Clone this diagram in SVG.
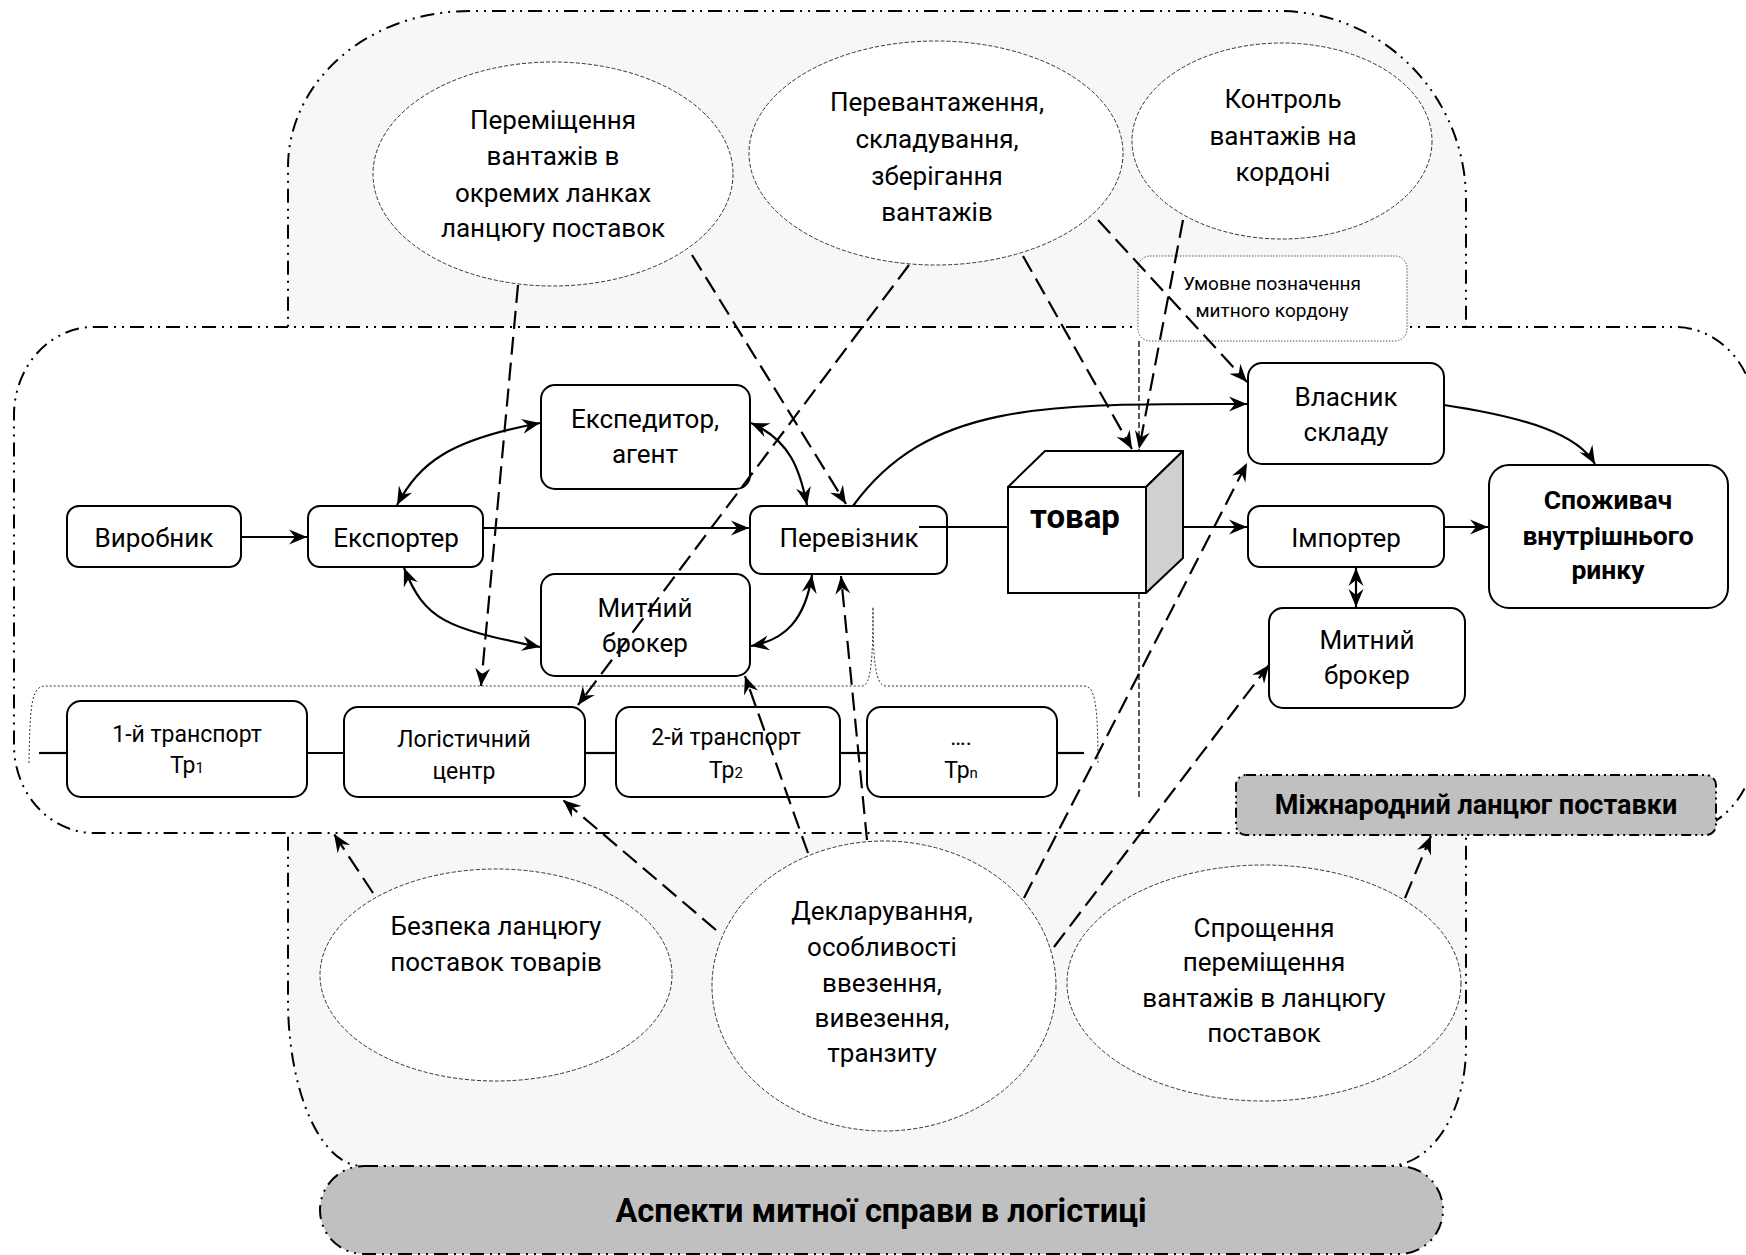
<svg xmlns="http://www.w3.org/2000/svg" width="1746" height="1255" viewBox="0 0 1746 1255">
<defs>
<style>
.t{font-family:Roboto,"Noto Sans","DejaVu Sans",sans-serif;font-size:26px;text-anchor:middle;fill:#000}
.s{font-size:23px}
.b{font-weight:bold}
.node{fill:#fff;stroke:#000;stroke-width:2}
.ell{fill:#fff;stroke:#333;stroke-width:1;stroke-dasharray:4 2}
.dd{stroke:#000;stroke-width:2;stroke-dasharray:14 6 2 6 2 6}
.solid{fill:none;stroke:#000;stroke-width:2.2}
.dash{fill:none;stroke:#000;stroke-width:2.2;stroke-dasharray:18 8}
</style>
<marker id="ar" viewBox="-20 -10 22 20" refX="0" refY="0" markerWidth="22" markerHeight="20" markerUnits="userSpaceOnUse" orient="auto-start-reverse">
<path d="M0,0 L-18,-7.5 L-12,0 L-18,7.5 Z" fill="#000" stroke="none"/>
</marker>
</defs>

<!-- background regions -->
<path id="aspects-region" class="dd" fill="#f7f7f7" d="M288,167 A181,156 0 0 1 469,11 L1279,11 A187,189 0 0 1 1466,200 L1466,1047 A78,119 0 0 1 1388,1166 L362,1166 A74,166 0 0 1 288,1000 Z"/>
<rect id="chain-region" class="dd" fill="#fff" x="14" y="327" width="1741" height="506" rx="80" ry="88"/>

<g id="title-aspects">
<rect class="dd" fill="#c0c0c0" x="320" y="1166" width="1123" height="88" rx="44" ry="44"/>
<text class="t b" x="881" y="1222" style="font-size:32.5px">Аспекти митної справи в логістиці</text>
</g>
<g id="title-chain">
<rect fill="#c0c0c0" stroke="#000" stroke-width="2" stroke-dasharray="10 4 2 4 2 4" x="1236" y="775" width="480" height="60" rx="10"/>
<text class="t b" x="1476" y="814" style="font-size:27px">Міжнародний ланцюг поставки</text>
</g>

<g id="legend">
<rect fill="#fff" stroke="#555" stroke-width="1" stroke-dasharray="1.5 1.5" x="1138" y="256" width="269" height="85" rx="12"/>
<text class="t" x="1272" y="290" style="font-size:19px">Умовне позначення</text>
<text class="t" x="1272" y="317" style="font-size:19px">митного кордону</text>
</g>
<line id="customs-border" x1="1139" y1="341" x2="1139" y2="797" stroke="#000" stroke-width="1.3" stroke-dasharray="6 3"/>

<!-- ellipses -->
<g id="e-movement">
<ellipse class="ell" cx="553" cy="174" rx="180" ry="112"/>
<text class="t" x="553" y="129">Переміщення</text>
<text class="t" x="553" y="165">вантажів в</text>
<text class="t" x="553" y="202">окремих ланках</text>
<text class="t" x="553" y="237">ланцюгу поставок</text>
</g>
<g id="e-transship">
<ellipse class="ell" cx="936" cy="153" rx="187" ry="112"/>
<text class="t" x="937" y="111">Перевантаження,</text>
<text class="t" x="937" y="148">складування,</text>
<text class="t" x="937" y="185">зберігання</text>
<text class="t" x="937" y="221">вантажів</text>
</g>
<g id="e-control">
<ellipse class="ell" cx="1282" cy="141" rx="150" ry="98"/>
<text class="t" x="1283" y="108">Контроль</text>
<text class="t" x="1283" y="145">вантажів на</text>
<text class="t" x="1283" y="181">кордоні</text>
</g>
<g id="e-security">
<ellipse class="ell" cx="496" cy="975" rx="176" ry="106"/>
<text class="t" x="496" y="935">Безпека ланцюгу</text>
<text class="t" x="496" y="971">поставок товарів</text>
</g>
<g id="e-declaring">
<ellipse class="ell" cx="884" cy="986" rx="172" ry="145"/>
<text class="t" x="882" y="920">Декларування,</text>
<text class="t" x="882" y="956">особливості</text>
<text class="t" x="882" y="992">ввезення,</text>
<text class="t" x="882" y="1027">вивезення,</text>
<text class="t" x="882" y="1062">транзиту</text>
</g>
<g id="e-simplify">
<ellipse class="ell" cx="1264" cy="983" rx="197" ry="118"/>
<text class="t" x="1264" y="937">Спрощення</text>
<text class="t" x="1264" y="971">переміщення</text>
<text class="t" x="1264" y="1007">вантажів в ланцюгу</text>
<text class="t" x="1264" y="1042">поставок</text>
</g>

<!-- nodes -->
<g id="n-producer"><rect class="node" x="67" y="506" width="174" height="61" rx="12"/><text class="t" x="154" y="547">Виробник</text></g>
<g id="n-exporter"><rect class="node" x="308" y="506" width="175" height="61" rx="12"/><text class="t" x="396" y="547">Експортер</text></g>
<g id="n-forwarder"><rect class="node" x="541" y="385" width="209" height="104" rx="14"/><text class="t" x="645" y="428">Експедитор,</text><text class="t" x="645" y="463">агент</text></g>
<g id="n-broker1"><rect class="node" x="541" y="574" width="209" height="102" rx="14"/><text class="t" x="645" y="617">Митний</text><text class="t" x="645" y="652">брокер</text></g>
<g id="n-carrier"><rect class="node" x="750" y="506" width="197" height="68" rx="12"/><text class="t" x="849" y="547">Перевізник</text></g>
<g id="n-goods">
<polygon points="1008,487 1045,451 1183,451 1146,487" fill="#fff" stroke="#000" stroke-width="2" stroke-linejoin="round"/>
<polygon points="1146,487 1183,451 1183,558 1146,593" fill="#d0d0d0" stroke="#000" stroke-width="2" stroke-linejoin="round"/>
<rect x="1008" y="487" width="138" height="106" fill="#fff" stroke="#000" stroke-width="2"/>
<text class="t b" x="1075" y="528" style="font-size:33px">товар</text>
</g>
<g id="n-warehouse"><rect class="node" x="1248" y="363" width="196" height="101" rx="14"/><text class="t" x="1346" y="406">Власник</text><text class="t" x="1346" y="441">складу</text></g>
<g id="n-importer"><rect class="node" x="1248" y="506" width="196" height="61" rx="12"/><text class="t" x="1346" y="547">Імпортер</text></g>
<g id="n-consumer"><rect class="node" x="1489" y="465" width="239" height="143" rx="20"/><text class="t b" x="1608" y="509" style="font-size:26.5px">Споживач</text><text class="t b" x="1608" y="545" style="font-size:26.5px">внутрішнього</text><text class="t b" x="1608" y="579" style="font-size:26.5px">ринку</text></g>
<g id="n-broker2"><rect class="node" x="1269" y="608" width="196" height="100" rx="14"/><text class="t" x="1367" y="649">Митний</text><text class="t" x="1367" y="684">брокер</text></g>

<g id="n-tr1"><rect class="node" x="67" y="701" width="240" height="96" rx="14"/><text class="t s" x="187" y="742">1-й транспорт</text><text class="t s" x="187" y="773">Тр<tspan font-size="15">1</tspan></text></g>
<g id="n-logistic"><rect class="node" x="344" y="707" width="241" height="90" rx="14"/><text class="t s" x="464" y="747">Логістичний</text><text class="t s" x="464" y="779">центр</text></g>
<g id="n-tr2"><rect class="node" x="616" y="707" width="224" height="90" rx="14"/><text class="t s" x="726" y="745">2-й транспорт</text><text class="t s" x="726" y="778">Тр<tspan font-size="15">2</tspan></text></g>
<g id="n-trn"><rect class="node" x="867" y="707" width="190" height="90" rx="14"/><text class="t s" x="961" y="745">….</text><text class="t s" x="961" y="778">Тр<tspan font-size="15">n</tspan></text></g>

<path id="brace" d="M29,763 C30,700 32,686 46,686 L862,686 C871,686 873,660 873,607 C873,660 875,686 886,686 L1084,686 C1094,686 1098,700 1098,763" fill="none" stroke="#333" stroke-width="1" stroke-dasharray="2 2"/>

<!-- connectors -->
<g id="connectors">
<g class="solid">
<line x1="39" y1="753" x2="67" y2="753"/>
<line x1="307" y1="753" x2="344" y2="753"/>
<line x1="585" y1="753" x2="616" y2="753"/>
<line x1="840" y1="753" x2="867" y2="753"/>
<line x1="1057" y1="753" x2="1084" y2="753"/>
<path d="M241,537 L307,537" marker-end="url(#ar)"/>
<path d="M483,528 L749,528" marker-end="url(#ar)"/>
<path d="M919,527 L1008,527"/>
<path d="M1183,527 L1247,527" marker-end="url(#ar)"/>
<path d="M1444,527 L1488,527" marker-end="url(#ar)"/>
<path d="M853,506 C930,400 1050,404 1247,404" marker-end="url(#ar)"/>
<path d="M1444,405 C1530,418 1578,435 1595,464" marker-end="url(#ar)"/>
<path d="M397,505 C420,462 450,440 540,423" marker-start="url(#ar)" marker-end="url(#ar)"/>
<path d="M404,568 C425,620 445,628 540,647" marker-start="url(#ar)" marker-end="url(#ar)"/>
<path d="M751,423 C790,440 800,470 807,505" marker-start="url(#ar)" marker-end="url(#ar)"/>
<path d="M812,575 C805,620 785,640 751,646" marker-start="url(#ar)" marker-end="url(#ar)"/>
<path d="M1356,568 L1356,607" marker-start="url(#ar)" marker-end="url(#ar)"/>
</g>
<g class="dash">
<path d="M518,285 L481,686" marker-end="url(#ar)"/>
<path d="M692,255 L846,504" marker-end="url(#ar)"/>
<path d="M909,265 L578,705" marker-end="url(#ar)"/>
<path d="M1023,256 L1132,449" marker-end="url(#ar)"/>
<path d="M1098,220 L1247,382" marker-end="url(#ar)"/>
<path d="M1183,220 L1139,449" marker-end="url(#ar)"/>
<path d="M716,930 L563,800" marker-end="url(#ar)"/>
<path d="M808,853 L745,676" marker-end="url(#ar)"/>
<path d="M867,840 L841,576" marker-end="url(#ar)"/>
<path d="M1024,898 L1247,463" marker-end="url(#ar)"/>
<path d="M1054,947 L1269,665" marker-end="url(#ar)"/>
<path d="M373,893 L334,834" marker-end="url(#ar)"/>
<path d="M1405,898 L1431,836" marker-end="url(#ar)"/>
</g>
</g>
</svg>
